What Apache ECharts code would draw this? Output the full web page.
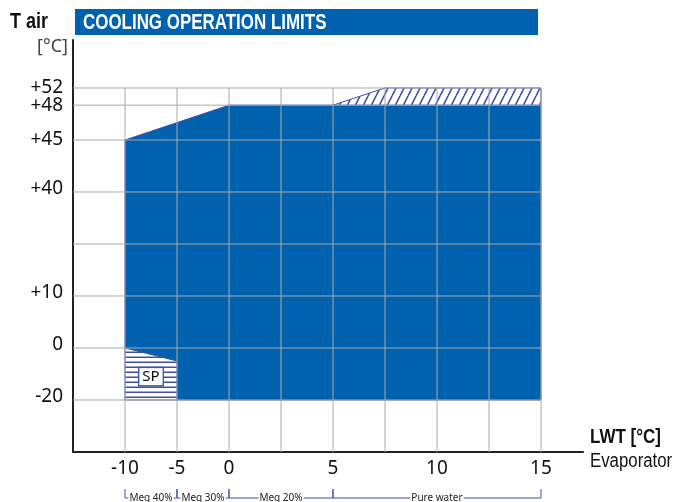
<!DOCTYPE html>
<html>
<head>
<meta charset="utf-8">
<script src="https://cdn.jsdelivr.net/npm/echarts@6/dist/echarts.min.js"></script>
<style>
  html, body { margin: 0; padding: 0; background: #fff; }
  #main { width: 673px; height: 502px; }
</style>
</head>
<body>
<div id="main"></div>
<script>
// scale definition (non linear axes): real value -> axis slot
var xScaleReal = [-10, 0, 15];
var xScaleSlot = [1, 3, 9];
var yScaleReal = [-20, 0, 10, 40, 45, 48, 52];
var yScaleSlot = [1, 2, 3, 5, 6, 6.67, 7];

// tick labels
var xTickValues = [-10, -5, 0, 5, 10, 15];
var yTickValues = [-20, 0, 10, 40, 45, 48, 52];
var yTickLabels = ['-20', '0', '+10', '+40', '+45', '+48', '+52'];
var xGridValues = [-10, -5, 0, 2.5, 5, 7.5, 10, 12.5, 15];
var yGridValues = [-20, 0, 10, 25, 40, 45, 48, 52];

// operating envelope (LWT, T air)
var envelopeLWT  = [-10, 0, 15, 15, -5, -5, -10];
var envelopeTair = [45, 48, 48, -20, -20, -5, 0];
// extended zone (hatched)
var extLWT  = [5, 7.5, 15, 15];
var extTair = [48, 52, 52, 48];
// SP zone
var spLWT  = [-10, -5, -5, -10];
var spTair = [0, -5, -20, -20];
var spLabel = {lwt: -7.5, tair: -11, text: 'SP'};

// glycol brackets under the axis
var mediumLabels = ['Meg 40%', 'Meg 30%', 'Meg 20%', 'Pure water'];
var mediumFrom = [-10, -5, 0, 5];
var mediumTo   = [-5, 0, 5, 15];

var BLUE = '#0062ae';
var EDGE = '#3d50a6';
var LIB = "'Liberation Sans', Arial, sans-serif";

function interp(v, xs, ys) {
    var i = 0;
    if (v <= xs[0]) i = 0;
    else if (v >= xs[xs.length - 1]) i = xs.length - 2;
    else { while (v > xs[i + 1]) i++; }
    return ys[i] + (v - xs[i]) * (ys[i + 1] - ys[i]) / (xs[i + 1] - xs[i]);
}
function toX(v) { return interp(v, xScaleReal, xScaleSlot); }
function toY(v) { return interp(v, yScaleReal, yScaleSlot); }
function fromX(p) { return interp(p, xScaleSlot, xScaleReal); }

// hatch patterns
function diagPattern() {
    var c = document.createElement('canvas');
    c.width = 8; c.height = 16;
    var g = c.getContext('2d');
    g.fillStyle = '#fff'; g.fillRect(0, 0, 8, 16);
    g.strokeStyle = EDGE; g.lineWidth = 1.6;
    [-8, 0, 8].forEach(function (o) {
        g.beginPath(); g.moveTo(o, 16); g.lineTo(o + 8, 0); g.stroke();
    });
    return {image: c, repeat: 'repeat'};
}
function horizPattern() {
    var c = document.createElement('canvas');
    c.width = 4; c.height = 5;
    var g = c.getContext('2d');
    g.fillStyle = '#fff'; g.fillRect(0, 0, 4, 5);
    g.fillStyle = EDGE; g.fillRect(0, 1.5, 4, 1.5);
    return {image: c, repeat: 'repeat'};
}

function polySeries(xs, ys, fill, z) {
    return {
        type: 'custom',
        z: z,
        data: [[0, 0]],
        renderItem: function (params, api) {
            var pts = xs.map(function (x, i) { return api.coord([toX(x), toY(ys[i])]); });
            return {
                type: 'polygon',
                shape: {points: pts},
                style: {fill: fill, stroke: EDGE, lineWidth: 1}
            };
        }
    };
}

// condensed looking text: regular font squeezed horizontally
function narrowText(x, y, text, font, sx, color) {
    return {type: 'text', x: x, y: y, scaleX: sx,
        style: {text: text, fill: color, font: font, verticalAlign: 'middle'}};
}

var chart = echarts.init(document.getElementById('main'));

var option = {
    animation: false,
    backgroundColor: '#fff',
    grid: {left: 73, right: 90, top: 40, bottom: 50},
    xAxis: {
        type: 'value',
        min: 0, max: 9.808,
        splitLine: {show: false},
        axisTick: {show: false},
        axisLine: {lineStyle: {color: '#222', width: 2}},
        axisLabel: {
            customValues: xTickValues.map(toX),
            formatter: function (v) { return String(Math.round(fromX(v))); },
            color: '#111', fontSize: 19, fontFamily: 'Noto Sans', margin: 7,
            hideOverlap: false
        }
    },
    yAxis: {
        type: 'value',
        min: 0, max: 7.923,
        splitLine: {show: false},
        axisTick: {show: false},
        axisLabel: {show: false},
        axisLine: {show: true, lineStyle: {color: '#222', width: 2}}
    },
    graphic: [
        {type: 'rect', left: 75, top: 9, shape: {width: 463, height: 26}, style: {fill: BLUE}},
        narrowText(83, 23, 'COOLING OPERATION LIMITS', 'bold 22px ' + LIB, 0.77, '#fff'),
        narrowText(10, 22, 'T air', 'bold 22px ' + LIB, 0.82, '#111'),
        {type: 'text', left: 37, top: 38, style: {text: '[°C]', fill: '#444', font: '18px Noto Sans'}},
        narrowText(590, 437, 'LWT [°C]', 'bold 20px ' + LIB, 0.85, '#111'),
        narrowText(590, 461, 'Evaporator', '20px ' + LIB, 0.84, '#111')
    ],
    series: [
        polySeries(envelopeLWT, envelopeTair, BLUE, 2),
        polySeries(extLWT, extTair, diagPattern(), 2),
        polySeries(spLWT, spTair, horizPattern(), 2),
        {
            // grid lines over the areas, y tick labels, SP tag
            type: 'custom',
            z: 3,
            clip: false,
            data: [[0, 0]],
            renderItem: function (params, api) {
                var x0 = 0, x1 = toX(15), y0 = 0, y1 = toY(52);
                var kids = [];
                xGridValues.forEach(function (v) {
                    var a = api.coord([toX(v), y0]), b = api.coord([toX(v), y1]);
                    kids.push({type: 'line', shape: {x1: a[0], y1: a[1], x2: b[0], y2: b[1]},
                        style: {stroke: '#a9a9a9', lineWidth: 1}});
                });
                yGridValues.forEach(function (v) {
                    var a = api.coord([x0, toY(v)]), b = api.coord([x1, toY(v)]);
                    kids.push({type: 'line', shape: {x1: a[0], y1: a[1], x2: b[0], y2: b[1]},
                        style: {stroke: '#a9a9a9', lineWidth: 1}});
                });
                yTickValues.forEach(function (v, i) {
                    var p = api.coord([x0, toY(v)]);
                    kids.push({type: 'text', x: p[0] - 10, y: p[1] - (v < 45 ? 3 : 0), style: {
                        text: yTickLabels[i], fill: '#111', font: '19px Noto Sans',
                        align: 'right', verticalAlign: 'middle'
                    }});
                });
                var c = api.coord([toX(spLabel.lwt), toY(spLabel.tair)]);
                kids.push({type: 'text', x: c[0], y: c[1], z2: 10, style: {
                    text: spLabel.text, fill: '#111', font: '15px Noto Sans',
                    align: 'center', verticalAlign: 'middle',
                    backgroundColor: '#fff', borderColor: EDGE, borderWidth: 1.3, padding: [2, 3, 0, 3]
                }});
                return {type: 'group', children: kids};
            }
        },
        {
            // glycol brackets
            type: 'custom',
            z: 3,
            clip: false,
            data: mediumLabels.map(function (l, i) { return [toX(mediumFrom[i]), toX(mediumTo[i])]; }),
            renderItem: function (params, api) {
                var i = params.dataIndex;
                var a = api.coord([toX(mediumFrom[i]), 0]);
                var b = api.coord([toX(mediumTo[i]), 0]);
                var yl = a[1] + 46, yt = a[1] + 37;
                return {type: 'group', children: [
                    {type: 'line', shape: {x1: a[0], y1: yt, x2: a[0], y2: yl}, style: {stroke: EDGE, lineWidth: 1}},
                    {type: 'line', shape: {x1: b[0], y1: yt, x2: b[0], y2: yl}, style: {stroke: EDGE, lineWidth: 1}},
                    {type: 'line', shape: {x1: a[0], y1: yl, x2: b[0], y2: yl}, style: {stroke: EDGE, lineWidth: 1}},
                    {type: 'text', x: (a[0] + b[0]) / 2, y: yl, z2: 5, style: {
                        text: mediumLabels[i], fill: '#222', font: '10px Noto Sans',
                        align: 'center', verticalAlign: 'middle', backgroundColor: '#fff', padding: [0, 1]
                    }}
                ]};
            }
        }
    ]
};
chart.setOption(option);
</script>
</body>
</html>
